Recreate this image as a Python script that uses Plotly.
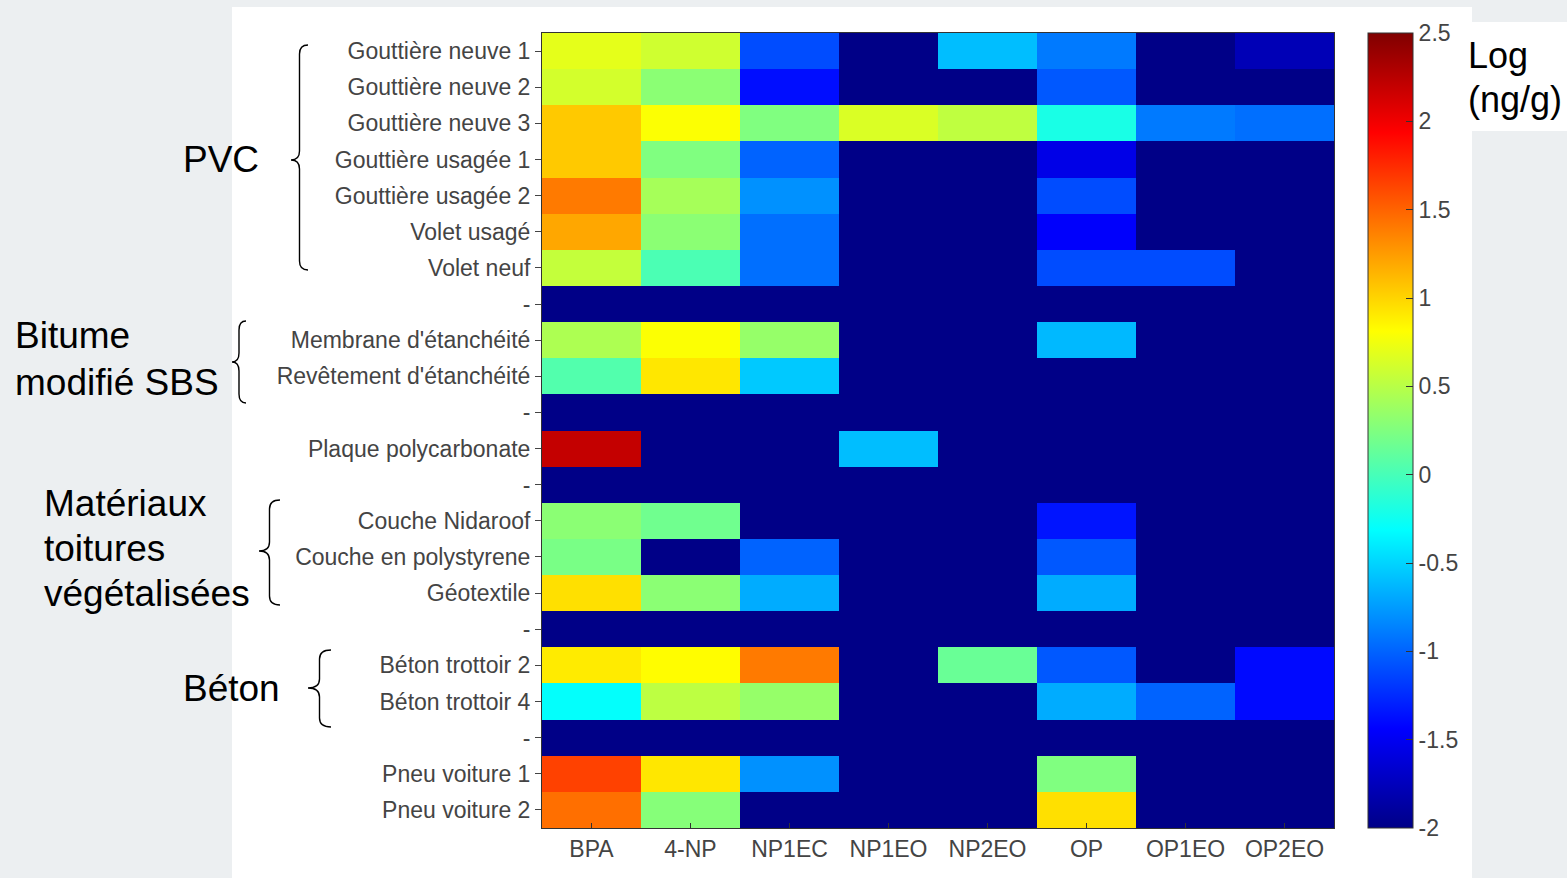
import plotly.graph_objects as go

# ---------------- data ----------------
compounds = ["BPA", "4-NP", "NP1EC", "NP1EO", "NP2EO", "OP", "OP1EO", "OP2EO"]
samples = [
    "Gouttière neuve 1", "Gouttière neuve 2", "Gouttière neuve 3",
    "Gouttière usagée 1", "Gouttière usagée 2", "Volet usagé", "Volet neuf",
    "-",
    "Membrane d'étanchéité", "Revêtement d'étanchéité",
    "-",
    "Plaque polycarbonate",
    "-",
    "Couche Nidaroof", "Couche en polystyrene", "Géotextile",
    "-",
    "Béton trottoir 2", "Béton trottoir 4",
    "-",
    "Pneu voiture 1", "Pneu voiture 2",
]

BPA   = [0.70, 0.62, 1.05, 1.05, 1.40, 1.20, 0.55, -2, 0.45, 0.05, -2, 2.20, -2, 0.30, 0.22, 0.95, -2, 0.90, -0.30, -2, 1.65, 1.45]
NP4   = [0.60, 0.30, 0.80, 0.25, 0.42, 0.30, 0.02, -2, 0.80, 0.92, -2, -2, -2, 0.18, -2, 0.30, -2, 0.82, 0.52, -2, 0.92, 0.28]
NP1EC = [-1.10, -1.38, 0.25, -1.00, -0.80, -0.95, -0.95, -2, 0.35, -0.55, -2, -2, -2, -2, -1.00, -0.68, -2, 1.40, 0.35, -2, -0.80, -2]
NP1EO = [-2, -2, 0.65, -2, -2, -2, -2, -2, -2, -2, -2, -0.60, -2, -2, -2, -2, -2, -2, -2, -2, -2, -2]
NP2EO = [-0.60, -2, 0.53, -2, -2, -2, -2, -2, -2, -2, -2, -2, -2, -2, -2, -2, -2, 0.15, -2, -2, -2, -2]
OP    = [-0.90, -1.05, -0.20, -1.55, -1.10, -1.45, -1.10, -2, -0.62, -2, -2, -2, -2, -1.35, -1.05, -0.68, -2, -1.05, -0.68, -2, 0.25, 0.95]
OP1EO = [-2, -2, -0.90, -2, -2, -2, -1.10, -2, -2, -2, -2, -2, -2, -2, -2, -2, -2, -2, -1.00, -2, -2, -2]
OP2EO = [-1.78, -2, -0.95, -2, -2, -2, -2, -2, -2, -2, -2, -2, -2, -2, -2, -2, -2, -1.40, -1.40, -2, -2, -2]

cbar_ticks = [-2, -1.5, -1, -0.5, 0, 0.5, 1, 1.5, 2, 2.5]
cbar_text = ["-2", "-1.5", "-1", "-0.5", "0", "0.5", "1", "1.5", "2", "2.5"]

groups = [
    ("PVC", "right"), ("Bitume", "left"), ("modifié SBS", "left"),
    ("Matériaux", "left"), ("toitures", "left"), ("végétalisées", "left"),
    ("Béton", "right"),
]

series = [BPA, NP4, NP1EC, NP1EO, NP2EO, OP, OP1EO, OP2EO]
z = [[series[c][r] for c in range(len(compounds))] for r in range(len(samples))]

# ---------------- layout geometry (pixels) ----------------
W, H = 1567, 878
ML, MR, MT, MB = 542, 233, 33, 50
PW, PH = W - ML - MR, H - MT - MB
FONT = "Liberation Sans, Arial, sans-serif"


def px(x):
    return (x - ML) / PW


def py(y):
    return (H - MB - y) / PH


jet = [
    [0.0, "rgb(0,0,135)"],
    [0.125, "rgb(0,0,255)"],
    [0.375, "rgb(0,255,255)"],
    [0.625, "rgb(255,255,0)"],
    [0.875, "rgb(255,0,0)"],
    [1.0, "rgb(128,0,0)"],
]

fig = go.Figure(
    go.Heatmap(
        z=z,
        x=list(range(len(compounds))),
        y=list(range(len(samples))),
        colorscale=jet,
        zmin=-2,
        zmax=2.5,
        colorbar=dict(
            x=px(1368), xanchor="left", xpad=0,
            y=0.5, yanchor="middle", len=1, lenmode="fraction", ypad=0,
            thickness=45, thicknessmode="pixels",
            outlinewidth=1, outlinecolor="#333",
            tickvals=cbar_ticks, ticktext=cbar_text,
            ticks="inside", ticklen=7, tickcolor="#333",
            tickfont=dict(family=FONT, size=23, color="#444"),
        ),
        hoverongaps=False,
    )
)

fig.update_xaxes(
    tickvals=list(range(len(compounds))), ticktext=compounds,
    range=[-0.5, len(compounds) - 0.5],
    ticks="inside", ticklen=5, tickcolor="#333", mirror=True,
    showline=True, linecolor="#333", linewidth=1,
    showgrid=False, zeroline=False,
    tickfont=dict(family=FONT, size=23, color="#444"),
)
fig.update_yaxes(
    tickvals=list(range(len(samples))), ticktext=samples,
    range=[len(samples) - 0.5, -0.5],
    ticks="outside", ticklen=6, tickcolor="#444", mirror=True,
    showline=True, linecolor="#333", linewidth=1,
    showgrid=False, zeroline=False,
    tickfont=dict(family=FONT, size=23, color="#444"),
)

shapes = [
    dict(type="rect", xref="paper", yref="paper", layer="below",
         x0=px(232), x1=px(1472), y0=py(H), y1=py(7),
         fillcolor="white", line=dict(width=0)),
    dict(type="rect", xref="paper", yref="paper", layer="below",
         x0=px(1472), x1=px(W), y0=py(131), y1=py(22),
         fillcolor="white", line=dict(width=0)),
]


def brace(x_arm, x_tip, y_top, y_mid, y_bot, r=9):
    xv = (x_arm + x_tip) / 2
    pts = [
        ("M", [(x_arm, y_top)]),
        ("Q", [(xv, y_top), (xv, y_top + r)]),
        ("L", [(xv, y_mid - r)]),
        ("Q", [(xv, y_mid), (x_tip, y_mid)]),
        ("Q", [(xv, y_mid), (xv, y_mid + r)]),
        ("L", [(xv, y_bot - r)]),
        ("Q", [(xv, y_bot), (x_arm, y_bot)]),
    ]
    s = ""
    for cmd, ps in pts:
        s += cmd + " " + " ".join(f"{px(a):.5f},{py(b):.5f}" for a, b in ps) + " "
    return dict(type="path", xref="paper", yref="paper", path=s.strip(),
                line=dict(color="black", width=1.4))


shapes += [
    brace(308, 291, 45, 160, 270),
    brace(246, 232, 321, 362, 403),
    brace(280, 259, 500, 551, 605),
    brace(331, 308, 650, 688, 727),
]

label_pos = [(260, 160), (14, 335), (14, 382), (43, 503), (43, 548), (43, 593), (281, 688)]
annotations = []
for (text, anchor), (x, y) in zip(groups, label_pos):
    annotations.append(dict(
        text=text, xref="paper", yref="paper", x=px(x), y=py(y),
        xanchor=anchor, yanchor="middle", showarrow=False, borderpad=0,
        font=dict(family=FONT, size=37, color="black"),
    ))
for text, y in [("Log", 55), ("(ng/g)", 100)]:
    annotations.append(dict(
        text=text, xref="paper", yref="paper", x=px(1467), y=py(y),
        xanchor="left", yanchor="middle", showarrow=False, borderpad=0,
        font=dict(family=FONT, size=36, color="black"),
    ))

fig.update_layout(
    width=W, height=H, autosize=False,
    margin=dict(l=ML, r=MR, t=MT, b=MB, pad=0),
    paper_bgcolor="#eceff1",
    plot_bgcolor="white",
    shapes=shapes,
    annotations=annotations,
    showlegend=False,
)

fig.write_html("out.html")
